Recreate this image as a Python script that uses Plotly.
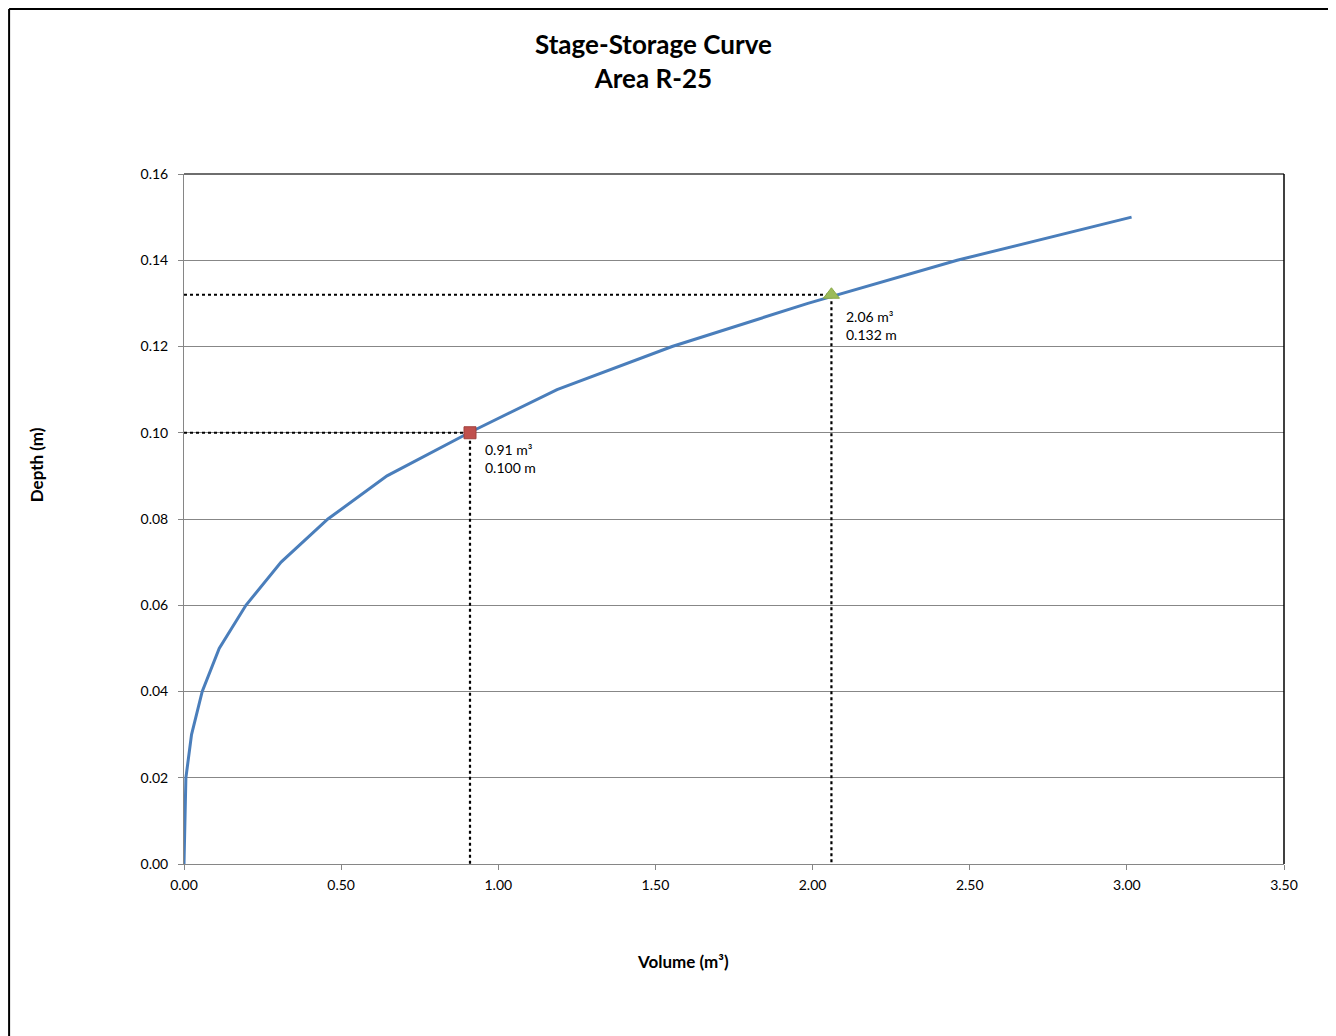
import plotly.graph_objects as go

# stage-storage data
depth_m = [0.00, 0.01, 0.02, 0.03, 0.04, 0.05, 0.06, 0.07, 0.08, 0.09,
           0.10, 0.11, 0.12, 0.13, 0.14, 0.15]
volume_m3 = [0.000, 0.002, 0.006, 0.024, 0.058, 0.112, 0.197, 0.309, 0.458, 0.646,
             0.907, 1.187, 1.553, 1.985, 2.460, 3.015]

# highlighted points
pt_volume = [0.91, 2.06]
pt_depth = [0.100, 0.132]
pt_labels = ["0.91 m³<br>0.100 m", "2.06 m³<br>0.132 m"]

FONT = "Lato, Calibri, sans-serif"

fig = go.Figure()

# dotted guide lines (to the y axis and down to the x axis)
for v, d in zip(pt_volume, pt_depth):
    fig.add_trace(go.Scatter(x=[0, v, v], y=[d, d, 0], mode="lines",
                             line=dict(color="black", width=2.2, dash="dot"),
                             hoverinfo="skip", showlegend=False))

fig.add_trace(go.Scatter(x=volume_m3, y=depth_m, mode="lines",
                         line=dict(color="#4A7EBB", width=3), showlegend=False))

fig.add_trace(go.Scatter(x=[pt_volume[0]], y=[pt_depth[0]], mode="markers",
                         marker=dict(symbol="square", size=12, color="#C0504D",
                                     line=dict(color="#A0403D", width=1)),
                         showlegend=False))
fig.add_trace(go.Scatter(x=[pt_volume[1]], y=[pt_depth[1]], mode="markers",
                         marker=dict(symbol="triangle-up", size=14, color="#9BBB59",
                                     line=dict(color="#8AAA48", width=1)),
                         showlegend=False))

for v, d, t, ys in zip(pt_volume, pt_depth, pt_labels, [-6, -11]):
    fig.add_annotation(x=v, y=d, text=t, showarrow=False, xanchor="left", yanchor="top",
                       xshift=13, yshift=ys, align="left",
                       font=dict(family=FONT, size=14, color="black"))

# titles
fig.add_annotation(x=0.427, y=1.164, xref="paper", yref="paper", showarrow=False,
                   text="<b>Stage-Storage Curve</b><br><b>Area R-25</b>",
                   font=dict(family=FONT, size=26, color="black"),
                   xanchor="center", yanchor="middle")
fig.add_annotation(x=-0.1345, y=0.578, xref="paper", yref="paper", showarrow=False,
                   text="<b>Depth (m)</b>", textangle=-90,
                   xanchor="center", yanchor="middle",
                   font=dict(family=FONT, size=17, color="black"))
fig.add_annotation(x=0.4536, y=-0.1406, xref="paper", yref="paper", showarrow=False,
                   text="<b>Volume (m³)</b>", xanchor="center", yanchor="middle",
                   font=dict(family=FONT, size=17, color="black"))

# outer chart frame (extends past the image at right and bottom)
fig.add_shape(type="line", xref="paper", yref="paper", x0=-0.159, x1=-0.159,
              y0=-0.4, y1=1.2391, line=dict(color="black", width=2))
fig.add_shape(type="line", xref="paper", yref="paper", x0=-0.159, x1=1.2,
              y0=1.2391, y1=1.2391, line=dict(color="black", width=2))
# plot area top/right border
fig.add_shape(type="line", xref="paper", yref="paper", x0=0, x1=1, y0=1, y1=1,
              line=dict(color="#6E6E6E", width=2))
fig.add_shape(type="line", xref="paper", yref="paper", x0=1, x1=1, y0=0, y1=1,
              line=dict(color="black", width=1.5))

fig.update_xaxes(range=[0, 3.5], tickvals=[0, 0.5, 1, 1.5, 2, 2.5, 3, 3.5],
                 tickformat=".2f", showgrid=False, zeroline=False,
                 showline=True, linecolor="#868686", linewidth=1,
                 ticks="outside", ticklen=5, tickcolor="#868686",
                 ticklabelstandoff=3,
                 tickfont=dict(family=FONT, size=14, color="black"))
fig.update_yaxes(range=[0, 0.16], tickvals=[0, 0.02, 0.04, 0.06, 0.08, 0.10, 0.12, 0.14, 0.16],
                 tickformat=".2f", showgrid=True, gridcolor="#878787", gridwidth=1,
                 zeroline=False, showline=True, linecolor="#868686", linewidth=1,
                 ticks="outside", ticklen=5, tickcolor="#868686",
                 ticklabelstandoff=7,
                 tickfont=dict(family=FONT, size=14, color="black"))

# page body has an 8px margin, so the plot area is shifted back by 8px
fig.update_layout(width=1336, height=1036, margin=dict(l=176, r=60, t=166, b=180),
                  paper_bgcolor="white", plot_bgcolor="white", showlegend=False)

fig.write_html("out.html")
